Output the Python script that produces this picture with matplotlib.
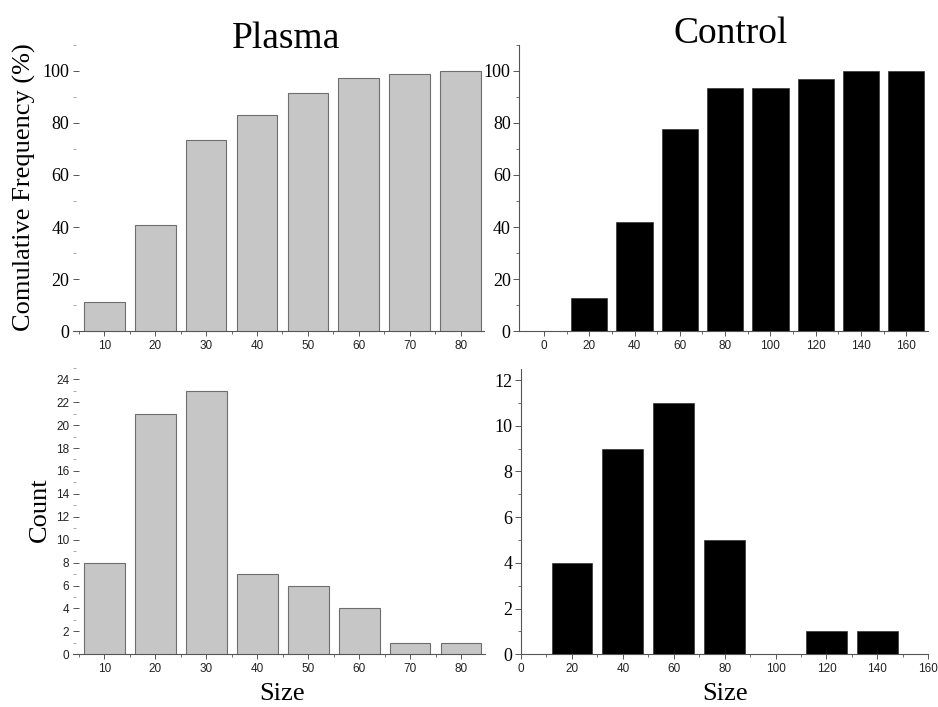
import matplotlib
matplotlib.use("Agg")
import matplotlib.pyplot as plt
from matplotlib.ticker import FixedLocator

# ---- data ----
plasma_sizes = [10, 20, 30, 40, 50, 60, 70, 80]
plasma_cum = [11.3, 40.8, 73.2, 83.1, 91.5, 97.2, 98.6, 100]
plasma_counts = [8, 21, 23, 7, 6, 4, 1, 1]

control_cum_sizes = [0, 20, 40, 60, 80, 100, 120, 140, 160]
control_cum = [0, 12.9, 41.9, 77.4, 93.5, 93.5, 96.8, 100, 100]
control_count_sizes = [20, 40, 60, 80, 100, 120, 140]
control_counts = [4, 9, 11, 5, 0, 1, 1]

plasma_xticks = [10, 20, 30, 40, 50, 60, 70, 80]
control_xticks = [0, 20, 40, 60, 80, 100, 120, 140, 160]
cum_yticks = [0, 20, 40, 60, 80, 100]
plasma_count_yticks = list(range(0, 25, 2))
control_count_yticks = [0, 2, 4, 6, 8, 10, 12]

SERIF = "Liberation Serif"
SANS = "Liberation Sans"
GRAY = "#c6c6c6"
EDGE = "#6e6e6e"
AXC = "#555555"

W, H = 938, 707
fig = plt.figure(figsize=(W / 100, H / 100), dpi=100)

def box(x0, x1, ytop, ybot):
    return [x0 / W, 1 - ybot / H, (x1 - x0) / W, (ybot - ytop) / H]

ax_tl = fig.add_axes(box(72.7, 484, 44.5, 331.3))
ax_tr = fig.add_axes(box(519, 928.3, 44.5, 331.3))
ax_bl = fig.add_axes(box(72.7, 485, 367.8, 654.3))
ax_br = fig.add_axes(box(521, 928.3, 368.6, 654.3))

# bars
ax_tl.bar(plasma_sizes, plasma_cum, width=8, color=GRAY, edgecolor=EDGE, linewidth=0.8, zorder=3)
ax_bl.bar(plasma_sizes, plasma_counts, width=8, color=GRAY, edgecolor=EDGE, linewidth=0.8, zorder=3)
ax_tr.bar(control_cum_sizes, control_cum, width=16, color="black", edgecolor="#333333", linewidth=0.5, zorder=3)
ax_br.bar(control_count_sizes, control_counts, width=16, color="black", edgecolor="#333333", linewidth=0.5, zorder=3)

# limits
ax_tl.set_xlim(3.8, 84.6); ax_tl.set_ylim(0, 110)
ax_bl.set_xlim(3.8, 84.7); ax_bl.set_ylim(0, 25)
ax_tr.set_xlim(-11, 169.7); ax_tr.set_ylim(0, 110)
ax_br.set_xlim(0, 160); ax_br.set_ylim(0, 12.5)

for ax in (ax_tl, ax_tr, ax_bl, ax_br):
    ax.spines["top"].set_visible(False)
    ax.spines["right"].set_visible(False)
    ax.spines["bottom"].set_color(AXC)
    ax.spines["bottom"].set_linewidth(0.8)
    ax.spines["left"].set_color(AXC)
    ax.spines["left"].set_linewidth(0.8)
    ax.set_facecolor("none")
    ax.tick_params(axis="x", which="major", direction="out", length=3.6, width=0.7,
                   color=AXC, pad=3.0, labelsize=8.5, labelcolor="#222222")
    ax.tick_params(axis="x", which="minor", direction="out", length=2, width=0.6, color=AXC)

# left panels: no left spine, inward y ticks
for ax in (ax_tl, ax_bl):
    ax.spines["left"].set_visible(False)
    ax.tick_params(axis="y", which="major", direction="in", length=4.5, width=0.7, color=AXC, pad=2.5)
    ax.tick_params(axis="y", which="minor", direction="in", length=2, width=0.6, color="#999999")
for ax in (ax_tr, ax_br):
    ax.tick_params(axis="y", which="major", direction="out", length=4.5, width=0.7, color=AXC, pad=1.5)
    ax.tick_params(axis="y", which="minor", direction="out", length=2, width=0.6, color=AXC)

# ticks
for ax in (ax_tl, ax_bl):
    ax.xaxis.set_major_locator(FixedLocator(plasma_xticks))
    ax.xaxis.set_minor_locator(FixedLocator([5, 15, 25, 35, 45, 55, 65, 75]))
    ax.set_xticklabels([str(v) for v in plasma_xticks], fontfamily=SANS, fontsize=8.5, color="#222222")
ax_tr.xaxis.set_major_locator(FixedLocator(control_xticks))
ax_tr.xaxis.set_minor_locator(FixedLocator([10, 30, 50, 70, 90, 110, 130, 150]))
ax_tr.set_xticklabels([str(v) for v in control_xticks], fontfamily=SANS, fontsize=8.5, color="#222222")
ax_br.xaxis.set_major_locator(FixedLocator(control_xticks))
ax_br.xaxis.set_minor_locator(FixedLocator([10, 30, 50, 70, 90, 110, 130, 150]))
ax_br.set_xticklabels([str(v) for v in control_xticks], fontfamily=SANS, fontsize=8.5, color="#222222")

for ax in (ax_tl, ax_tr):
    ax.yaxis.set_major_locator(FixedLocator(cum_yticks))
    ax.yaxis.set_minor_locator(FixedLocator([10, 30, 50, 70, 90, 110]))
    ax.set_yticklabels([str(v) for v in cum_yticks], fontfamily=SERIF, fontsize=13)

ax_bl.yaxis.set_major_locator(FixedLocator(plasma_count_yticks))
ax_bl.yaxis.set_minor_locator(FixedLocator(list(range(1, 26, 2))))
ax_bl.set_yticklabels([str(v) for v in plasma_count_yticks], fontfamily=SANS, fontsize=8.5, color="#222222")

ax_br.yaxis.set_major_locator(FixedLocator(control_count_yticks))
ax_br.yaxis.set_minor_locator(FixedLocator([1, 3, 5, 7, 9, 11]))
ax_br.set_yticklabels([str(v) for v in control_count_yticks], fontfamily=SERIF, fontsize=13)

# titles and labels
fig.text(286 / W, 1 - 48 / H, "Plasma", fontfamily=SERIF, fontsize=27, ha="center", va="baseline")
fig.text(731 / W, 1 - 43 / H, "Control", fontfamily=SERIF, fontsize=27, ha="center", va="baseline")
fig.text(24 / W, 1 - 187 / H, "Comulative Frequency (%)", fontfamily=SERIF, fontsize=19,
         rotation=90, ha="center", va="center")
fig.text(40 / W, 1 - 510 / H, "Count", fontfamily=SERIF, fontsize=19,
         rotation=90, ha="center", va="center")
fig.text(282 / W, 1 - 700 / H, "Size", fontfamily=SERIF, fontsize=19, ha="center", va="baseline")
fig.text(725 / W, 1 - 700 / H, "Size", fontfamily=SERIF, fontsize=19, ha="center", va="baseline")

fig.savefig("out.png", dpi=100, facecolor="white")
